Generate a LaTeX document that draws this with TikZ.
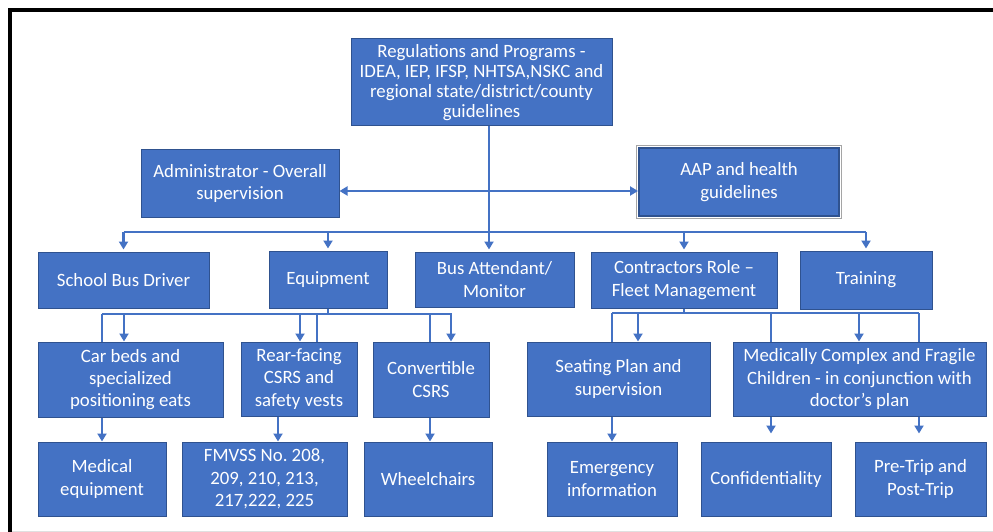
\documentclass[tikz,border=0pt]{standalone}
\usepackage{fontspec}
\setmainfont{Carlito}
\frenchspacing
\usetikzlibrary{arrows.meta, positioning, calc}
\definecolor{ofblue}{HTML}{4472C4}
\definecolor{ofdark}{HTML}{2F528F}
\definecolor{ofgray}{HTML}{A5A5A5}

\begin{document}
\begin{tikzpicture}[x=1pt, y=-1pt, >={Triangle[length=8pt, width=9pt]},
  box/.style={fill=ofblue, draw=ofdark, line width=1pt, text=white, align=center,
    inner sep=0pt, font=\fontsize{18.8}{22.3}\selectfont},
  link/.style={ofblue, line width=2.8pt}]

\useasboundingbox (0,0) rectangle (993,532);

% Frame
\draw[black, line width=4pt] (10,532) -- (10,10.5) -- (993,10.5);
\draw[black!12, line width=1pt] (12,531) -- (993,531);

% =========== Top level ===========
\node[box, minimum width=261, minimum height=87, font=\fontsize{18.8}{20}\selectfont] (reg) at (481.5,82.5)
  {Regulations and Programs -\\IDEA, IEP, IFSP, NHTSA,NSKC and\\regional state/district/county\\guidelines};

\node[box, minimum width=198, minimum height=67] (admin) at (240,183.5)
  {Administrator - Overall\\supervision};
\node[box, minimum width=200, minimum height=68, line width=2pt] (aap) at (739,182)
  {AAP and health\\guidelines};
\draw[ofgray, line width=1pt] ([shift={(-1.5,-1.5)}]aap.north west) rectangle ([shift={(1.5,1.5)}]aap.south east);

% =========== Second row ===========
\node[box, minimum width=171, minimum height=56] (driver) at (123.5,280) {School Bus Driver};
\node[box, minimum width=118, minimum height=57] (equip) at (328,279.5) {Equipment};
\node[box, minimum width=159, minimum height=55] (attend) at (494.5,279.5) {Bus Attendant/\\Monitor};
\node[box, minimum width=186, minimum height=56] (contr) at (684,280) {Contractors Role –\\Fleet Management};
\node[box, minimum width=132, minimum height=58] (train) at (866,280) {Training};

% =========== Third row ===========
\node[box, minimum width=185, minimum height=75] (carbed) at (130.5,379.5)
  {Car beds and\\specialized\\positioning eats};
\node[box, minimum width=116, minimum height=74] (rear) at (299,379)
  {Rear-facing\\CSRS and\\safety vests};
\node[box, minimum width=116, minimum height=75] (conv) at (431,379.5) {Convertible\\CSRS};
\node[box, minimum width=183, minimum height=74] (seat) at (618.5,379)
  {Seating Plan and\\supervision};
\node[box, minimum width=253, minimum height=74] (medic) at (859.5,379)
  {Medically Complex and Fragile\\Children - in conjunction with\\doctor’s plan};

% =========== Bottom row ===========
\node[box, minimum width=128, minimum height=74] (medeq) at (102,479) {Medical\\equipment};
\node[box, minimum width=165, minimum height=74] (fmvss) at (264.5,479)
  {FMVSS No. 208,\\209, 210, 213,\\217,222, 225};
\node[box, minimum width=128, minimum height=74] (wheel) at (428,479) {Wheelchairs};
\node[box, minimum width=130, minimum height=74] (emerg) at (612,479) {Emergency\\information};
\node[box, minimum width=130, minimum height=74] (conf) at (766,479) {Confidentiality};
\node[box, minimum width=131, minimum height=74] (trip) at (920.5,479) {Pre-Trip and\\Post-Trip};

% =========== Connectors from the top ===========
\coordinate (mid) at (489,191);
\coordinate (bus) at (489,232);

\draw[link, ->, shorten >=2pt] (reg.south -| bus) -- (attend.north -| bus);
\draw[link, <->] (admin.east |- mid) -- (aap.west |- mid);
\draw[link] (driver.north |- bus) -- (train.north |- bus);
\foreach \n in {driver, equip, contr, train}
  \draw[link, ->, shorten >=2pt] (\n.north |- bus) -- (\n.north);

% =========== Equipment branch ===========
\coordinate (ebus) at (328,314);
\draw[link] (equip.south) -- (ebus);
\draw[link] (102,314) -- (452,314);
\foreach \x/\n in {102/carbed, 317/rear, 430/conv}
  \draw[link] (\x,314) -- (\n.north -| \x,314);
\foreach \x/\n in {124/carbed, 300/rear, 451/conv}
  \draw[link, ->] (\x,314) -- (\n.north -| \x,314);

\draw[link, ->] (carbed.south -| medeq.north) -- (medeq.north);
\draw[link, ->] (rear.south -| 278,0) -- (fmvss.north -| 278,0);
\draw[link, ->] (conv.south -| 430,0) -- (wheel.north -| 430,0);

% =========== Contractors branch ===========
\coordinate (cbus) at (684,313);
\draw[link] (contr.south) -- (cbus);
\draw[link] (612,313) -- (919,313);
\foreach \x/\n in {612/seat, 771/medic, 919/medic}
  \draw[link] (\x,313) -- (\n.north -| \x,313);
\foreach \x/\n in {638/seat, 859/medic}
  \draw[link, ->] (\x,313) -- (\n.north -| \x,313);

\draw[link, ->] (seat.south -| emerg.north) -- (emerg.north);
\draw[link, ->, shorten >=8pt] (medic.south -| 771,0) -- (conf.north -| 771,0);
\draw[link, ->, shorten >=8pt] (medic.south -| 919,0) -- (trip.north -| 919,0);

\end{tikzpicture}
\end{document}
